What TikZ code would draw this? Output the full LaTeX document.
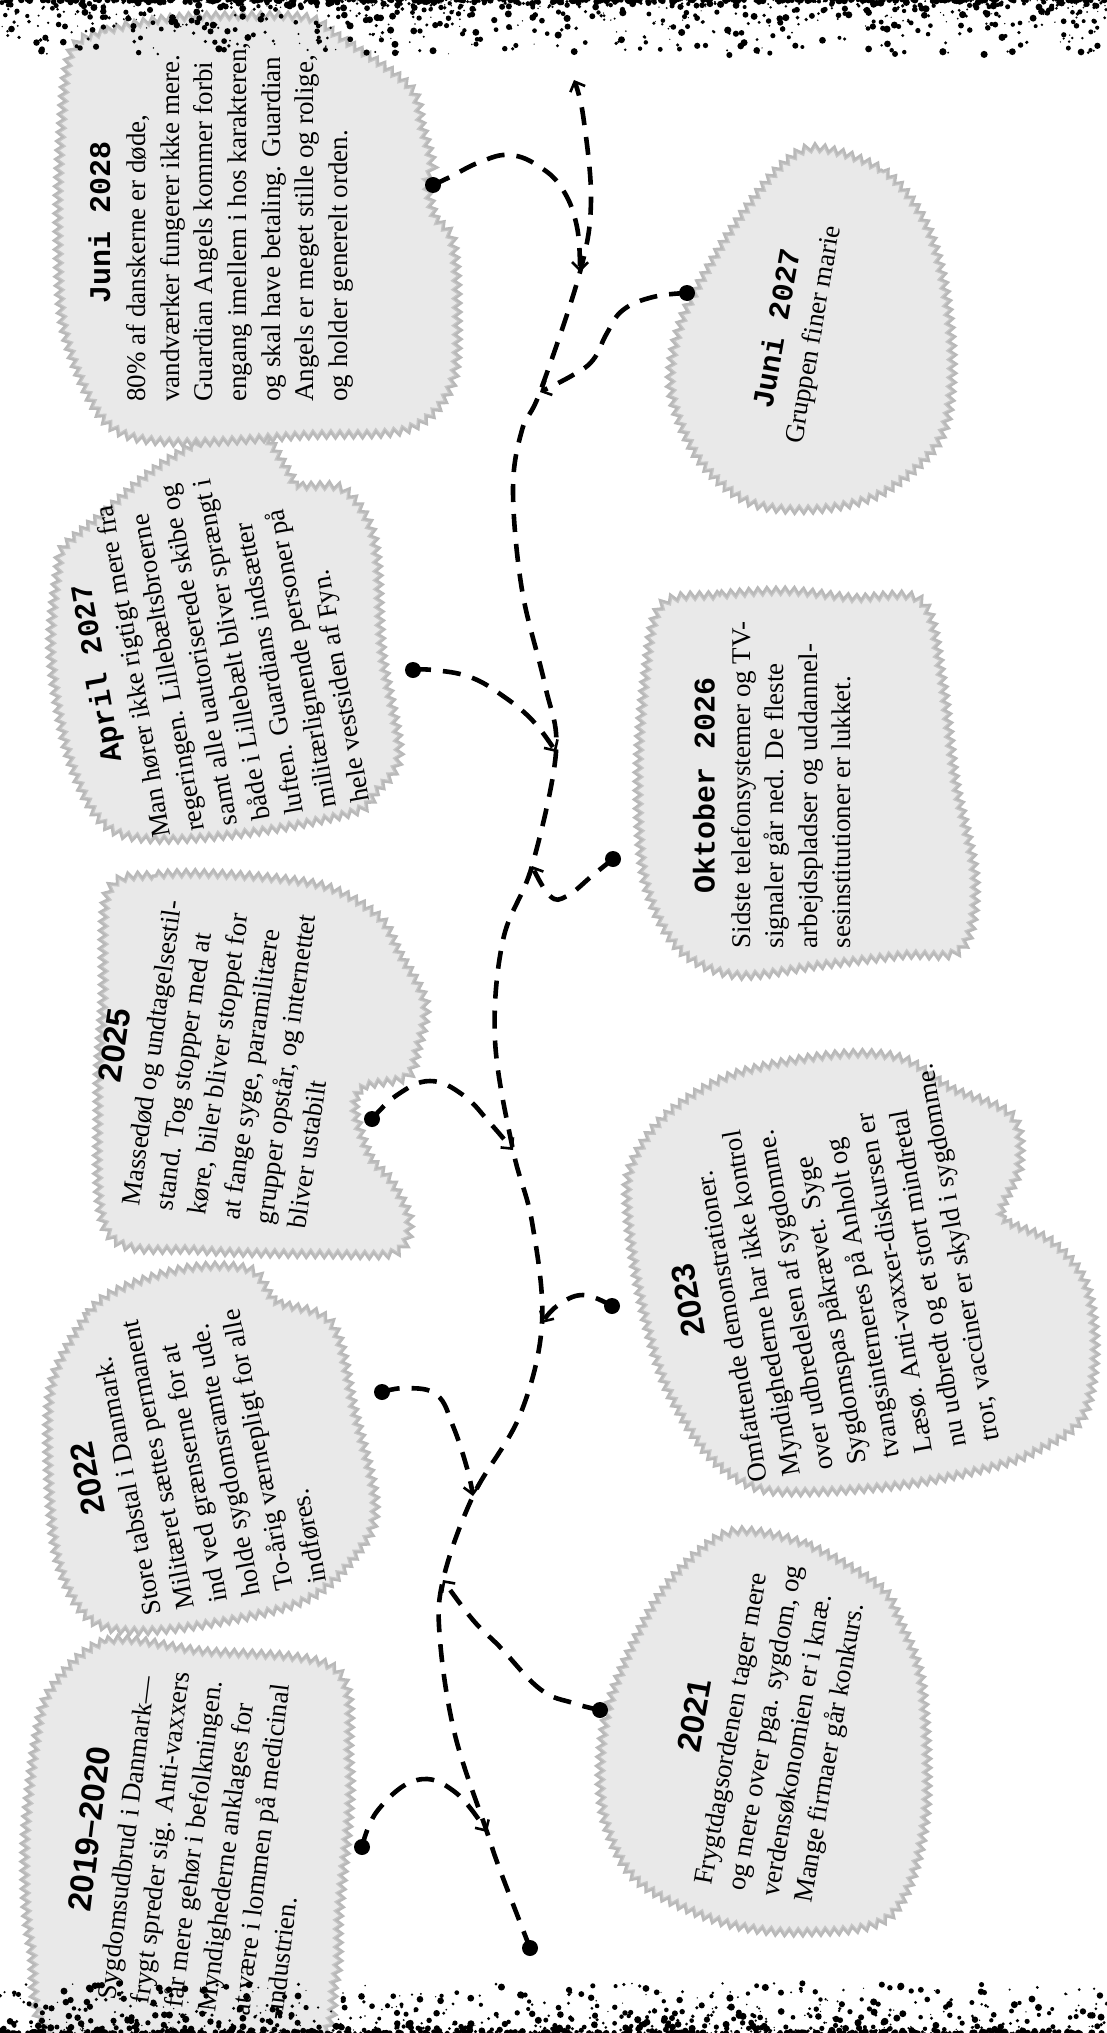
\documentclass[tikz,border=0pt]{standalone}
\usepackage{fontspec}
\setmainfont{Liberation Serif}
\newfontfamily\yearsans{Liberation Sans}
\newfontfamily\yearmono{Liberation Mono}
\usepackage{tikz}
\usetikzlibrary{arrows.meta, decorations.pathmorphing}

\newcommand{\yr}[1]{{\yearsans\bfseries\fontsize{16.5}{20}\selectfont #1}}
\newcommand{\mo}[1]{{\yearmono\bfseries\fontsize{15}{20}\selectfont #1}}
\newcommand{\notetext}[2]{\begin{tabular}{@{}l@{}}\multicolumn{1}{@{}c@{}}{#1}\\[1pt] #2\end{tabular}}
\newcommand{\tornpaper}[1]{%
  \fill[papershadow] plot[smooth cycle, tension=0.55] coordinates {#1};
  \fill[paper] plot[smooth cycle, tension=0.55] coordinates {#1};}

\tikzset{
  torn/.style={decorate, decoration={zigzag, segment length=4.5pt, amplitude=1.6pt}},
  papershadow/.style={torn, fill=gray!55, draw=gray!55, line width=3pt},
  paper/.style={torn, fill=gray!17, draw=gray!45, line width=0.6pt},
  notefont/.style={inner sep=0pt, font=\fontsize{13.5}{16.8}\selectfont},
  evdot/.style={circle, fill=black, inner sep=0pt, minimum size=8pt},
  timeline/.style={line width=2.3pt, dash pattern=on 9pt off 6pt},
  branch/.style={timeline, -{Straight Barb[length=4pt, width=8pt, line width=1.3pt]}},
}

\begin{document}
\begin{tikzpicture}[x=0.5pt, y=-0.5pt]
    \useasboundingbox (0,0) rectangle (1107,2033);
    \fill[white] (0,0) rectangle (1107,2033);

    \tornpaper{(53,1690) (107,1643) (200,1653) (333,1670) (347,1760) (347,1813) (337,1913) (333,1980) (300,2045) (67,2045) (33,1947) (27,1847) (37,1747)}
    \tornpaper{(55,1380) (90,1315) (123,1290) (190,1270) (250,1272) (275,1303) (330,1325) (352,1410) (373,1503) (357,1550) (300,1600) (170,1627) (95,1620) (60,1560) (50,1460)}
    \tornpaper{(110,893) (157,877) (233,877) (323,888) (377,918) (397,953) (423,1003) (415,1050) (405,1075) (363,1085) (353,1110) (368,1157) (390,1183) (407,1220) (395,1250) (330,1252) (200,1248) (110,1232) (100,1100) (105,1000)}
    \tornpaper{(67,547) (107,513) (153,473) (207,440) (253,427) (285,470) (297,487) (340,490) (365,520) (375,560) (380,653) (397,753) (375,790) (353,810) (253,830) (153,837) (103,820) (70,753) (53,653) (60,570)}
    \tornpaper{(73,53) (107,33) (173,20) (240,18) (307,20) (340,40) (407,87) (420,127) (430,165) (425,182) (433,217) (450,240) (455,300) (450,383) (407,427) (307,433) (173,440) (107,420) (67,333) (60,233) (63,133)}
    \tornpaper{(740,1533) (807,1547) (877,1587) (897,1620) (920,1687) (923,1820) (890,1913) (807,1930) (723,1920) (640,1880) (607,1820) (603,1753) (617,1687) (657,1603) (700,1553)}
    \tornpaper{(633,1167) (667,1117) (733,1077) (833,1057) (900,1060) (950,1090) (1010,1117) (1017,1167) (1000,1217) (1050,1243) (1083,1283) (1093,1350) (1080,1417) (1033,1450) (983,1467) (900,1483) (800,1490) (750,1483) (707,1450) (667,1383) (643,1300) (630,1217)}
    \tornpaper{(663,607) (720,597) (787,593) (853,600) (920,603) (940,680) (953,780) (973,880) (960,947) (903,953) (820,963) (737,973) (680,947) (647,880) (640,780) (647,680)}
    \tornpaper{(817,150) (883,173) (923,223) (943,290) (950,373) (937,440) (883,490) (817,507) (750,500) (700,457) (673,390) (683,323) (717,257) (750,207) (783,167)}

    \node[notefont, rotate=83] (t2019) at (195,1842) {\notetext{\yr{2019–2020}}{Sygdomsudbrud i Danmark—\\ frygt spreder sig. Anti-vaxxers\\ får mere gehør i befolkningen.\\ Myndighederne anklages for\\ at være i lommen på medicinal\\ -industrien.}};
    \node[notefont, rotate=101] (t2022) at (192,1458) {\notetext{\yr{2022}}{Store tabstal i Danmark.\\ Militæret sættes permanent\\ ind ved grænserne for at\\ holde sygdomsramte ude.\\ To-årig værnepligt for alle\\ indføres.}};
    \node[notefont, rotate=82] (t2025) at (220,1060) {\notetext{\yr{2025}}{Massedød og undtagelsestil-\\ stand. Tog stopper med at\\ køre, biler bliver stoppet for\\ at fange syge, paramilitære\\ grupper opstår, og internettet\\ bliver ustabilt}};
    \node[notefont, rotate=100] (tapr27) at (216,652) {\notetext{\mo{April 2027}}{Man hører ikke rigtigt mere fra\\ regeringen. Lillebæltsbroerne\\ samt alle uautoriserede skibe og\\ både i Lillebælt bliver sprængt i\\ luften. Guardians indsætter\\ militærlignende personer på\\ hele vestsiden af Fyn.}};
    \node[notefont, rotate=90] (tjun28) at (222,222) {\notetext{\mo{Juni 2028}}{80\% af danskerne er døde,\\ vandværker fungerer ikke mere.\\ Guardian Angels kommer forbi\\ engang imellem i hos karakteren,\\ og skal have betaling. Guardian\\ Angels er meget stille og rolige,\\ og holder generelt orden.}};
    \node[notefont, rotate=80] (t2021) at (766,1728) {\notetext{\yr{2021}}{Frygtdagsordenen tager mere\\ og mere over pga. sygdom, og\\ verdensøkonomien er i knæ.\\ Mange firmaer går konkurs.}};
    \node[notefont, rotate=100] (t2023) at (826,1276) {\notetext{\yr{2023}}{Omfattende demonstrationer.\\ Myndighederne har ikke kontrol\\ over udbredelsen af sygdomme.\\ Sygdomspas påkrævet. Syge\\ tvangsinterneres på Anholt og\\ Læsø. Anti-vaxxer-diskursen er\\ nu udbredt og et stort mindretal\\ tror, vacciner er skyld i sygdomme.}};
    \node[notefont, rotate=90] (tokt26) at (776,785) {\notetext{\mo{Oktober 2026}}{Sidste telefonsystemer og TV-\\ signaler går ned. De fleste\\ arbejdspladser og uddannel-\\ sesinstitutioner er lukket.}};
    \node[notefont, rotate=80] (tjun27) at (797,332) {\notetext{\mo{Juni 2027}}{Gruppen finer marie}};

    \pgfmathsetseed{42}
    \foreach \i in {1,...,1100} {
        \pgfmathsetmacro{\gx}{rnd*1107}
        \pgfmathsetmacro{\gy}{pow(rnd,3.5)*55}
        \pgfmathsetmacro{\gr}{0.3+1.5*rnd}
        \fill (\gx,\gy) circle (\gr pt);
    }
    \foreach \i in {1,...,1100} {
        \pgfmathsetmacro{\gx}{rnd*1107}
        \pgfmathsetmacro{\gy}{2033-pow(rnd,3.5)*50}
        \pgfmathsetmacro{\gr}{0.3+1.5*rnd}
        \fill (\gx,\gy) circle (\gr pt);
    }

    \node[evdot] (start) at (530,1948) {};
    \node[evdot] (d2019) at (362,1847) {};
    \node[evdot] (d2021) at (600,1710) {};
    \node[evdot] (d2022) at (382,1392) {};
    \node[evdot] (d2023) at (612,1306) {};
    \node[evdot] (d2025) at (372,1119) {};
    \node[evdot] (dokt26) at (613,859) {};
    \node[evdot] (dapr27) at (413,670) {};
    \node[evdot] (djun28) at (433,185) {};
    \node[evdot] (djun27) at (687,293) {};

    \coordinate (m2019) at (487,1832);
    \coordinate (m2021) at (443,1580);
    \coordinate (m2022) at (473,1496);
    \coordinate (m2023) at (542,1323);
    \coordinate (m2025) at (513,1150);
    \coordinate (mokt26) at (532,866);
    \coordinate (mapr27) at (556,752);
    \coordinate (mjun27) at (540,392);
    \coordinate (mjun28) at (580,272);
    \coordinate (top) at (574,80);

    \draw[timeline, -{Straight Barb[length=4pt, width=8pt, line width=1.3pt]}] plot[smooth, tension=0.6] coordinates {(start.center) (500,1870) (m2019) (455,1735) (440,1640) (m2021) (m2022) (520,1415) (m2023) (532,1222) (m2025) (495,1040) (503,940) (mokt26) (mapr27) (545,685) (522,590) (513,490) (522,430) (mjun27) (mjun28) (591,200) (583,115) (top)};

    \draw[branch] plot[smooth, tension=0.7] coordinates {(d2019.center) (378,1810) (417,1780) (455,1792) (m2019)};
    \draw[branch] plot[smooth, tension=0.7] coordinates {(d2021.center) (573,1703) (540,1689) (500,1647) (473,1620) (m2021)};
    \draw[branch] plot[smooth, tension=0.7] coordinates {(d2022.center) (407,1388) (437,1395) (453,1426) (467,1468) (m2022)};
    \draw[branch] plot[smooth, tension=0.7] coordinates {(d2023.center) (583,1295) (557,1306) (m2023)};
    \draw[branch] plot[smooth, tension=0.7] coordinates {(d2025.center) (397,1095) (430,1081) (463,1095) (490,1123) (m2025)};
    \draw[branch] plot[smooth, tension=0.7] coordinates {(dokt26.center) (593,875) (567,896) (550,896) (mokt26)};
    \draw[branch] plot[smooth, tension=0.7] coordinates {(dapr27.center) (433,670) (470,677) (503,696) (533,721) (mapr27)};
    \draw[branch] plot[smooth, tension=0.7] coordinates {(djun28.center) (450,177) (480,162) (510,155) (540,167) (563,190) (577,227) (mjun28)};
    \draw[branch] plot[smooth, tension=0.7] coordinates {(djun27.center) (653,297) (623,310) (607,333) (593,360) (573,375) (mjun27)};
\end{tikzpicture}
\end{document}
